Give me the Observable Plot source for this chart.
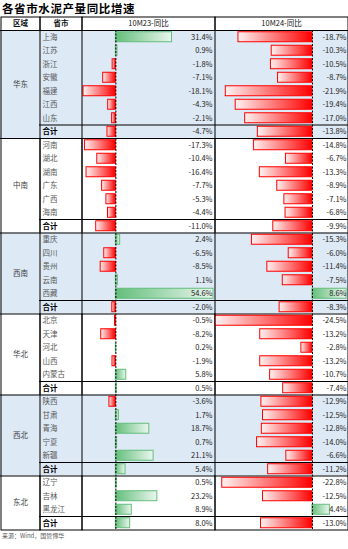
<!DOCTYPE html>
<html><head><meta charset="utf-8">
<script src="https://cdn.jsdelivr.net/npm/d3@7"></script>
<script src="https://cdn.jsdelivr.net/npm/@observablehq/plot@0.6"></script>
<style>
body{margin:0;background:#fff;font-family:'Noto Sans CJK SC',sans-serif;}
#wrap{position:relative;width:348px;height:549px;overflow:hidden;}
#title{position:absolute;left:2px;top:0;height:16px;line-height:16px;font-size:11.5px;font-weight:bold;letter-spacing:0.6px;color:#000;}
#caption{position:absolute;left:2px;top:531px;font-size:6px;line-height:10px;color:#555;}
.cell{position:absolute;top:16px;}
</style></head><body>
<div id="wrap"><div id="title">各省市水泥产量同比增速</div><div id="caption">来源：Wind，国管博华</div></div>
<script>
const regions = ["华东","中南","西南","华北","西北","东北"];
const shadedRegions = ["华东","西南","西北"];
const provinces = [
 ["上海","江苏","浙江","安徽","福建","江西","山东","合计"],
 ["河南","湖北","湖南","广东","广西","海南","合计"],
 ["重庆","四川","贵州","云南","西藏","合计"],
 ["北京","天津","河北","山西","内蒙古","合计"],
 ["陕西","甘肃","青海","宁夏","新疆","合计"],
 ["辽宁","吉林","黑龙江","合计"]
];
const growth10M23 = [
 [31.4,0.9,-1.8,-7.1,-18.1,-4.3,-2.1,-4.7],
 [-17.3,-10.4,-16.4,-7.7,-5.3,-4.4,-11.0],
 [2.4,-6.5,-8.5,1.1,54.6,-2.0],
 [-0.5,-8.2,0.2,-1.9,5.8,0.5],
 [-3.6,1.7,18.7,0.7,21.1,5.4],
 [0.5,23.2,8.9,8.0]
];
const growth10M24 = [
 [-18.7,-10.3,-10.5,-8.7,-21.9,-19.4,-17.0,-13.8],
 [-14.8,-6.7,-13.3,-8.9,-7.1,-6.8,-9.9],
 [-15.3,-6.0,-11.4,-7.5,8.6,-8.3],
 [-24.5,-13.2,-2.8,-13.2,-10.7,-7.4],
 [-12.9,-12.5,-12.8,-14.0,-6.6,-11.2],
 [-22.8,-12.5,4.4,-13.0]
];
const headers = ["区域","省市","10M23-同比","10M24-同比"];

const rows = []; const groups = [];
let k = 0;
regions.forEach((r, g) => {
  const start = k;
  provinces[g].forEach((p, j) => {
    rows.push({i: k, region: r, province: p, v23: growth10M23[g][j], v24: growth10M24[g][j], total: p === "合计"});
    k++;
  });
  groups.push({region: r, start, end: k, shaded: shadedRegions.includes(r)});
});
const nRows = k;
const H = 514;
const wrap = document.getElementById("wrap");
const style = {fontFamily: "'Noto Sans CJK SC', sans-serif", fontSize: "7.5px", background: "transparent", overflow: "visible"};
const yScale = {domain: [-1, nRows], range: [0.5, H - 0.5], axis: null};

function commonBack() {
  return [
    Plot.rect(groups.filter(d => d.shaded), {y1: "start", y2: "end", fill: "#dde9f5"}),
    Plot.ruleY(groups.slice(0, -1), {y: "end", stroke: "#000", strokeWidth: 1.2}),
    Plot.ruleY([0], {stroke: "#000", strokeWidth: 1})
  ];
}
function header(c, bold) {
  return Plot.text([headers[c]], {text: d => d, y: () => -0.5, frameAnchor: "middle", fill: "#111", fontWeight: bold ? "bold" : "normal"});
}
function place(svg, left) {
  svg.classList.add("cell");
  svg.style.left = left + "px";
  svg.style.position = "absolute";
  svg.style.top = "16px";
  wrap.appendChild(svg);
}

// Region column
place(Plot.plot({
  width: 40, height: H, margin: 0, style, y: yScale,
  marks: [
    ...commonBack(),
    header(0, true),
    Plot.text(groups, {y: d => (d.start + d.end) / 2, text: "region", frameAnchor: "middle", fill: "#404040"}),
    Plot.frame({stroke: "#000", inset: 0.5})
  ]
}), 0);

// Province column
place(Plot.plot({
  width: 43, height: H, margin: 0, style, y: yScale,
  marks: [
    ...commonBack(),
    Plot.ruleY(rows.filter(d => d.total), {y: "i", stroke: "#000"}),
    header(1, true),
    Plot.text(rows.filter(d => !d.total), {y: d => d.i + 0.5, text: "province", frameAnchor: "left", dx: 3, textAnchor: "start", fill: "#595959"}),
    Plot.text(rows.filter(d => d.total), {y: d => d.i + 0.5, text: "province", frameAnchor: "left", dx: 3, textAnchor: "start", fill: "#000", fontWeight: "bold"}),
    Plot.frame({stroke: "#000", inset: 0.5})
  ]
}), 39);

function valueColumn(key, c, xDomain, xRange, left, dx) {
  const svg = Plot.plot({
    width: 134, height: H, margin: 0, style, y: yScale,
    x: {domain: xDomain, range: xRange, axis: null},
    marks: [
      ...commonBack(),
      Plot.ruleY(rows.filter(d => d.total), {y: "i", stroke: "#000"}),
      header(c, false),
      Plot.rect(rows.filter(d => d[key] < 0), {x1: () => 0, x2: key, y1: d => d.i + 0.13, y2: d => d.i + 0.87, fill: `url(#neg${key})`, stroke: "#ff0000", strokeWidth: 1}),
      Plot.rect(rows.filter(d => d[key] >= 0), {x1: () => 0, x2: key, y1: d => d.i + 0.13, y2: d => d.i + 0.87, fill: `url(#pos${key})`, stroke: "#63be7b", strokeWidth: 1}),
      Plot.ruleX([0], {y1: () => 0, y2: () => nRows, stroke: "#000", strokeWidth: 1, strokeDasharray: "2,1.5"}),
      Plot.text(rows, {y: d => d.i + 0.5, text: d => d[key].toFixed(1) + "%", frameAnchor: "right", dx, textAnchor: "end", fill: "#222"}),
      Plot.frame({stroke: "#000", inset: 0.5})
    ]
  });
  const ns = "http://www.w3.org/2000/svg";
  const defs = document.createElementNS(ns, "defs");
  const mk = (id, stops) => {
    const lg = document.createElementNS(ns, "linearGradient");
    lg.setAttribute("id", id);
    lg.setAttribute("x1", "0"); lg.setAttribute("x2", "1"); lg.setAttribute("y1", "0"); lg.setAttribute("y2", "0");
    stops.forEach(([o, col]) => {
      const s = document.createElementNS(ns, "stop");
      s.setAttribute("offset", o); s.setAttribute("stop-color", col);
      lg.appendChild(s);
    });
    defs.appendChild(lg);
  };
  mk("neg" + key, [["0", "#fff2f2"], ["1", "#ff0000"]]);
  mk("pos" + key, [["0", "#63be7b"], ["1", "#eaf6ee"]]);
  svg.insertBefore(defs, svg.firstChild);
  place(svg, left);
}

valueColumn("v23", 2, [d3.min(growth10M23.flat()), d3.max(growth10M23.flat())], [2, 132], 81, -3);
valueColumn("v24", 3, [d3.min(growth10M24.flat()), d3.max(growth10M24.flat())], [1, 132], 214, -2);
</script>
</body></html>
